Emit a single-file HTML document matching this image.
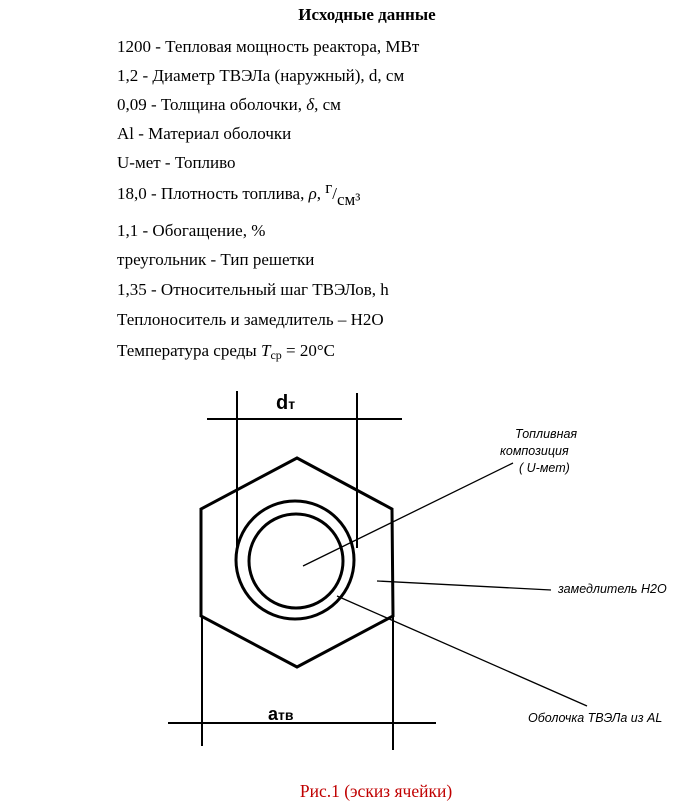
<!DOCTYPE html>
<html><head><meta charset="utf-8"><style>
body{margin:0;background:#fff;}
svg{display:block;}
.t{font-family:"Liberation Serif",serif;font-size:17px;fill:#000;}
.i{font-family:"Liberation Sans",sans-serif;font-size:12.5px;font-style:italic;fill:#000;}
</style></head><body>
<svg width="682" height="809" viewBox="0 0 682 809" xmlns="http://www.w3.org/2000/svg">
<text class="t" x="367" y="20" text-anchor="middle" font-weight="bold">Исходные данные</text>
<text class="t" x="117" y="52">1200 - Тепловая мощность реактора, МВт</text>
<text class="t" x="117" y="81">1,2 - Диаметр ТВЭЛа (наружный), d, см</text>
<text class="t" x="117" y="110">0,09 - Толщина оболочки, <tspan font-style="italic">δ</tspan>, см</text>
<text class="t" x="117" y="139">Al - Материал оболочки</text>
<text class="t" x="117" y="168">U-мет - Топливо</text>
<text class="t" x="117" y="199">18,0 - Плотность топлива, <tspan font-style="italic">ρ</tspan>, <tspan dy="-6">г</tspan><tspan dy="6">/</tspan><tspan dy="6">см³</tspan></text>
<text class="t" x="117" y="236">1,1 - Обогащение, %</text>
<text class="t" x="117" y="265">треугольник - Тип решетки</text>
<text class="t" x="117" y="295">1,35 - Относительный шаг ТВЭЛов, h</text>
<text class="t" x="117" y="325">Теплоноситель и замедлитель – H2O</text>
<text class="t" x="117" y="356">Температура среды <tspan font-style="italic">T</tspan><tspan font-size="12" dy="3">ср</tspan><tspan dy="-3"> = 20°C</tspan></text>

<g stroke="#000" fill="none">
<polygon points="297,458 392,509 393,616 297,667 201,616 201,509" stroke-width="3"/>
<circle cx="295" cy="560" r="59" stroke-width="3"/>
<circle cx="296" cy="561" r="47" stroke-width="3"/>
<line x1="237" y1="391" x2="237" y2="553" stroke-width="2"/>
<line x1="357" y1="393" x2="357" y2="548" stroke-width="2"/>
<line x1="207" y1="419" x2="402" y2="419" stroke-width="2"/>
<line x1="202" y1="616" x2="202" y2="746" stroke-width="2"/>
<line x1="393" y1="616" x2="393" y2="750" stroke-width="2"/>
<line x1="168" y1="723" x2="436" y2="723" stroke-width="2"/>
<line x1="303" y1="566" x2="513" y2="463" stroke-width="1.3"/>
<line x1="377" y1="581" x2="551" y2="590" stroke-width="1.3"/>
<line x1="337" y1="596" x2="587" y2="706" stroke-width="1.3"/>
</g>
<text x="276" y="409" font-family="Liberation Sans,sans-serif" font-size="20" font-weight="bold">d<tspan font-size="14">т</tspan></text>
<text x="268" y="720" font-family="Liberation Sans,sans-serif" font-size="18" font-weight="bold">a<tspan font-size="14">тв</tspan></text>
<text class="i" x="515" y="438">Топливная</text>
<text class="i" x="500" y="455">композиция</text>
<text class="i" x="519" y="472">( U-мет)</text>
<text class="i" x="558" y="593">замедлитель H2O</text>
<text class="i" x="528" y="722">Оболочка ТВЭЛа из AL</text>
<text x="376" y="797" text-anchor="middle" font-family="Liberation Serif,serif" font-size="17.5" fill="#c00000">Рис.1 (эскиз ячейки)</text>
</svg>
</body></html>
